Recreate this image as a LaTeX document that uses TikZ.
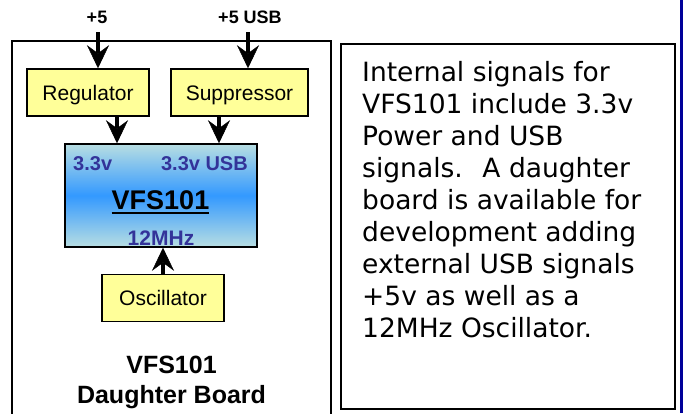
\documentclass[tikz,border=0pt]{standalone}
\usepackage{fontspec}
\setmainfont{Liberation Sans}
\newfontfamily\dejavu{DejaVu Sans}
\usetikzlibrary{arrows.meta}
\definecolor{boxyellow}{HTML}{FFFF99}
\definecolor{chipblue}{HTML}{3399FF}
\definecolor{chiplight}{HTML}{B8DEE2}
\definecolor{chiptext}{HTML}{333399}
\definecolor{edgeblue}{HTML}{000099}
\tikzset{
  blk/.style={draw, line width=1.5bp, fill=boxyellow, inner sep=0pt,
    minimum height=47bp, font=\fontsize{21bp}{25bp}\selectfont,
    text height=15bp, text depth=0pt},
  chipbox/.style={draw, line width=1.5bp, inner sep=0pt,
    top color=chiplight, bottom color=chiplight, middle color=chipblue},
  toplbl/.style={inner sep=0pt, font=\bfseries\fontsize{18bp}{20bp}\selectfont,
    text height=12.9bp, text depth=0pt},
  chiplbl/.style={inner sep=0pt, text=chiptext, font=\bfseries\fontsize{20bp}{24bp}\selectfont,
    text height=14.3bp, text depth=0pt},
  bigarrow/.style={line width=4bp, -{Stealth[length=23bp,width=22bp,inset=8bp,line width=0.5bp]}},
  frame/.style={line width=1.5bp}
}
\begin{document}
\begin{tikzpicture}[x=1bp,y=-1bp]
\useasboundingbox (0,0) rectangle (683,413);
\clip (0,0) rectangle (683,413);
\fill[edgeblue] (680,0) rectangle (683,413);
% frames
\draw[frame] (12,430) -- (12,41) -- (331,41) -- (331,430);
\draw[frame] (341,44) rectangle (675,409);
% blocks
\node[blk, minimum width=122bp] (reg) at (88,92.5) {Regulator};
\node[blk, minimum width=137bp] (sup) at (239.5,92.5) {Suppressor};
\node[chipbox, minimum width=192bp, minimum height=103bp] (chip) at (161,195.5) {};
\node[blk, minimum width=122bp] (osc) at (163,298) {Oscillator};
% top labels
\node[toplbl] (p5) at (97,17) {+5};
\node[toplbl] (p5usb) at (250,17) {+5 USB};
\coordinate (in1) at (98,32);
\coordinate (in2) at (248,32);
% chip labels
\node[chiplbl, anchor=west] (v33) at (73,163) {3.3v};
\node[chiplbl, anchor=east] (v33usb) at (248,163) {3.3v USB};
\node[inner sep=0pt, font=\bfseries\fontsize{27bp}{30bp}\selectfont,
  text height=19.3bp, text depth=0pt] (vfs) at (160.5,200) {VFS101};
\draw[line width=2bp] ([yshift=-3.5bp]vfs.south west) -- ([yshift=-3.5bp]vfs.south east);
\node[chiplbl, font=\bfseries\fontsize{21bp}{24bp}\selectfont, text height=15bp] (mhz) at (161,237.5) {12MHz};
% title
\node[inner sep=0pt, anchor=north, align=center,
  font=\bfseries\fontsize{25bp}{30bp}\selectfont] (title) at (171.5,356) {VFS101\\Daughter Board};
% description
\node[inner sep=0pt, anchor=north west, align=left,
  font=\dejavu\fontsize{26.5bp}{32bp}\selectfont] (desc) at (362,61.5)
  {Internal signals for\\VFS101 include 3.3v\\Power and USB\\signals.~ A daughter\\board is available for\\development adding\\external USB signals\\+5v as well as a\\12MHz Oscillator.};
% arrows
\draw[bigarrow] (in1) -- (in1 |- reg.north);
\draw[bigarrow] (in2) -- (in2 |- sup.north);
\draw[bigarrow] ([xshift=29bp]reg.south) -- ([xshift=29bp]reg.south |- chip.north);
\draw[bigarrow] ([xshift=-20.5bp]sup.south) -- ([xshift=-20.5bp]sup.south |- chip.north);
\draw[bigarrow] (osc.north) -- (osc.north |- chip.south);
\end{tikzpicture}
\end{document}
